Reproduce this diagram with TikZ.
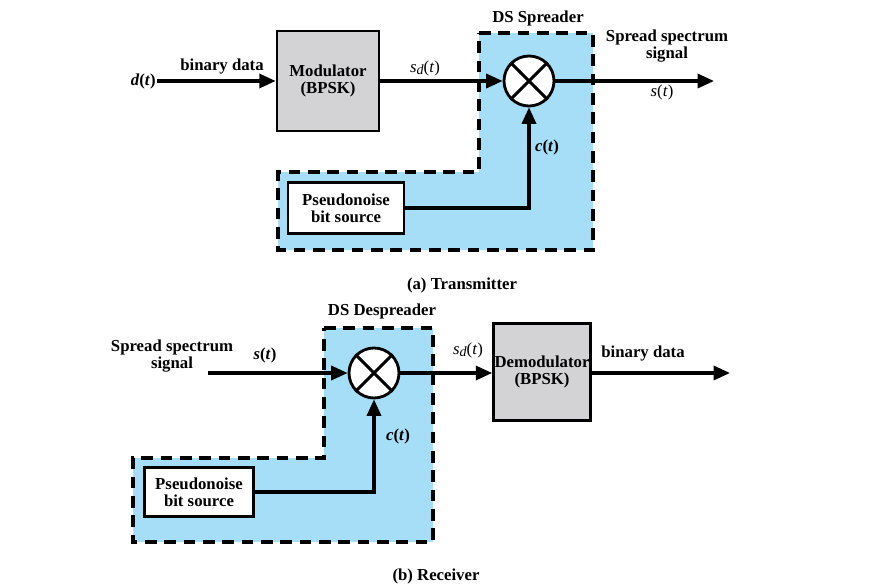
\documentclass[tikz,border=0pt]{standalone}
\usepackage{fontspec}
\setmainfont{Liberation Serif}
\usetikzlibrary{positioning,arrows.meta}
\definecolor{dsblue}{HTML}{A6DDF7}
\definecolor{boxgray}{HTML}{D3D3D5}
\newcommand{\sdt}{\textit{s}\raisebox{-2.5pt}{\fontsize{12}{12}\selectfont\textit{d}}(\textit{t})}

\begin{document}
\begin{tikzpicture}[
    x=0.03cm, y=-0.03cm,
    font=\fontsize{14.3}{14.8}\selectfont\bfseries,
    blk/.style={rectangle, draw, line width=2.3pt, fill=boxgray, align=center, inner sep=0pt},
    src/.style={rectangle, draw, line width=2.3pt, fill=white, align=center, inner sep=0pt},
    mix/.style={circle, draw, line width=2.4pt, fill=white, minimum size=1.5cm, inner sep=0pt},
    arr/.style={-{Triangle[length=14pt,width=12pt]}, line width=2.7pt},
    region/.style={draw, fill=dsblue, line width=2.6pt, dash pattern=on 10pt off 6.5pt},
    lbl/.style={align=center, inner sep=1pt}
]
\useasboundingbox (0,0) rectangle (885,588);

% (a) transmitter
\draw[region] (479,33) -- (593,33) -- (593,250) -- (278,250) -- (278,172) -- (479,172) -- cycle;
\node[blk, minimum width=3.06cm, minimum height=3cm] (mod) at (328,81) {Modulator\\(BPSK)};
\node[mix] (mix1) at (529,81) {};
\node[src, minimum width=3.48cm, minimum height=1.53cm] (pn1) at (346,208) {Pseudonoise\\bit source};
\node[lbl, anchor=east] (dt) at (157,81) {\textit{d}(\textit{t})};
\coordinate (st1) at (714,81);

\draw[arr] (dt.east) -- (mod.west);
\draw[arr] (mod.east) -- (mix1.west);
\draw[arr] (mix1.east) -- (st1);
\draw[arr] (pn1.east) -| (mix1.south);

\node[lbl] (bd1) at (222,66) {binary data};
\node[lbl] (sd1) at (425,68) {\mdseries\sdt};
\node[lbl] (ss1) at (667,46) {Spread spectrum\\signal};
\node[lbl] (s1) at (662,92) {\mdseries\textit{s}(\textit{t})};
\node[lbl] (c1) at (547,147) {\textit{c}(\textit{t})};
\node[lbl] (ds1) at (538,18) {DS Spreader};
\node[lbl] (cap1) at (462,285) {(a) Transmitter};

% (b) receiver
\draw[region] (324,328) -- (433,328) -- (433,542) -- (133,542) -- (133,458) -- (324,458) -- cycle;
\node[mix] (mix2) at (374,373) {};
\node[blk, minimum width=2.91cm, minimum height=2.91cm] (dem) at (542,372) {Demodulator\\(BPSK)};
\node[src, minimum width=3.27cm, minimum height=1.47cm] (pn2) at (199,492) {Pseudonoise\\bit source};
\coordinate (st2) at (208,373);
\coordinate (bd2out) at (730,373);

\draw[arr] (st2) -- (mix2.west);
\draw[arr] (mix2.east) -- (mix2.east -| dem.west);
\draw[arr] (dem.east |- bd2out) -- (bd2out);
\draw[arr] (pn2.east) -| (mix2.south);

\node[lbl] (ss2) at (172,356) {Spread spectrum\\signal};
\node[lbl] (s2) at (265,355) {\textit{s}(\textit{t})};
\node[lbl] (sd2) at (468,350) {\mdseries\sdt};
\node[lbl] (bd2) at (643,353) {binary data};
\node[lbl] (c2) at (398,436) {\textit{c}(\textit{t})};
\node[lbl] (ds2) at (382,311) {DS Despreader};
\node[lbl] (cap2) at (436,576) {(b) Receiver};

\foreach \m in {mix1,mix2} {
    \draw[line width=2.6pt] (\m.north east) -- (\m.south west) (\m.north west) -- (\m.south east);
}
\end{tikzpicture}
\end{document}
